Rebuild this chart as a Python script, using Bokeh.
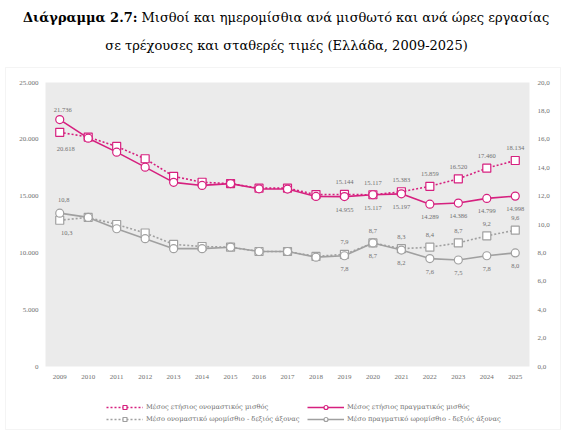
from bokeh.plotting import figure
from bokeh.models import (Range1d, ColumnDataSource, LabelSet, Label, BoxAnnotation,
                          Legend, LegendItem)
from bokeh.embed import file_html
from bokeh.resources import INLINE

# ---- data -------------------------------------------------------------
years = list(range(2009, 2026))

# annual wage per employee (left axis, euro)
annual_nominal = [20618, 20200, 19370, 18290, 16740, 16220, 16100, 15700, 15700,
                  15130, 15144, 15117, 15383, 15859, 16520, 17460, 18134]
annual_real = [21736, 20100, 18870, 17550, 16210, 15940, 16100, 15640, 15620,
               14970, 14955, 15117, 15197, 14289, 14386, 14799, 14998]

# hourly wage (right axis, euro)
hourly_nominal = [10.3, 10.5, 10.0, 9.4, 8.6, 8.45, 8.4, 8.1, 8.1,
                  7.75, 7.9, 8.7, 8.3, 8.4, 8.7, 9.2, 9.6]
hourly_real = [10.8, 10.5, 9.7, 9.0, 8.3, 8.3, 8.4, 8.1, 8.1,
               7.7, 7.8, 8.7, 8.2, 7.6, 7.5, 7.8, 8.0]

labelled_years = [2009, 2019, 2020, 2021, 2022, 2023, 2024, 2025]

left_ticks = [0, 5000, 10000, 15000, 20000, 25000]
right_ticks = [0, 2, 4, 6, 8, 10, 12, 14, 16, 18, 20]

legend_labels = ["Μέσος ετήσιος ονομαστικός μισθός",
                 "Μέσος ετήσιος πραγματικός μισθός",
                 "Μέσο ονομαστικό ωρομίσθιο - δεξιός άξονας",
                 "Μέσο πραγματικό ωρομίσθιο - δεξιός άξονας"]

title_bold = "Διάγραμμα 2.7:"
title_rest = "Μισθοί και ημερομίσθια ανά μισθωτό και ανά ώρες εργασίας"
title_line2 = "σε τρέχουσες και σταθερές τιμές (Ελλάδα, 2009-2025)"


# ---- helpers ----------------------------------------------------------
def fmt_int(v):
    return f"{int(round(v)):,}".replace(",", ".")


def fmt_dec(v):
    return f"{v:.1f}".replace(".", ",")


PINK = "#D6207F"
GREY = "#A0A0A0"
TEXT = "#707070"
FONT = "DejaVu Serif"

W, H = 570, 441
FL, FR, FT, FB = 45, 529, 82, 366   # edges of the grey plotting area, in pixels

X_LO, X_HI = years[0] - 0.5, years[-1] + 0.5
Y_HI, Y2_HI = left_ticks[-1], right_ticks[-1]
kx = (FR - FL) / (X_HI - X_LO)
ky = (FB - FT) / Y_HI
ky2 = (FB - FT) / Y2_HI


def px_x(px):
    """canvas pixel column -> data x"""
    return X_LO + (px - FL) / kx


def px_y(py):
    """canvas pixel row (from top) -> left-axis data y"""
    return (FB - py) / ky


# the frame spans the whole canvas; the grey box marks the plotting area
p = figure(width=W, height=H, output_backend="svg", toolbar_location=None,
           x_axis_location=None, y_axis_location=None,
           x_range=Range1d(px_x(0), px_x(W)), y_range=Range1d(px_y(H), px_y(0)),
           min_border=0, min_border_left=0, min_border_right=0,
           min_border_top=0, min_border_bottom=0)
p.extra_y_ranges = {"hourly": Range1d(-(H - FB) / ky2, Y2_HI + FT / ky2)}
p.background_fill_color = "white"
p.border_fill_color = "white"
p.outline_line_color = None
p.grid.visible = False

p.add_layout(BoxAnnotation(left=X_LO, right=X_HI, bottom=0, top=Y_HI,
                           fill_color="#EBEBEB", fill_alpha=1, line_color=None,
                           level="underlay"))
# outer chart border
p.add_layout(BoxAnnotation(left=px_x(5), right=px_x(560), bottom=px_y(429), top=px_y(67),
                           fill_alpha=0, line_color="#D9D9D9", line_width=1,
                           level="underlay"))

# ---- axis tick labels -------------------------------------------------
TICK_FS = "7px"
tick_style = dict(text_font=FONT, text_font_size=TICK_FS, text_color=TEXT,
                  text_baseline="middle")

xs = ColumnDataSource(dict(x=years, y=[0] * len(years), t=[str(y) for y in years]))
p.add_layout(LabelSet(x="x", y="y", text="t", source=xs, y_offset=-10,
                      text_align="center", **tick_style))

ls = ColumnDataSource(dict(x=[X_LO] * len(left_ticks), y=left_ticks,
                           t=[fmt_int(t) for t in left_ticks]))
p.add_layout(LabelSet(x="x", y="y", text="t", source=ls, x_offset=-7,
                      text_align="right", **tick_style))

rs = ColumnDataSource(dict(x=[X_HI] * len(right_ticks), y=right_ticks,
                           t=[fmt_dec(t) for t in right_ticks]))
p.add_layout(LabelSet(x="x", y="y", text="t", source=rs, x_offset=8,
                      y_range_name="hourly", text_align="left", **tick_style))

# ---- series -----------------------------------------------------------
src = ColumnDataSource(dict(year=years, an=annual_nominal, ar=annual_real,
                            hn=hourly_nominal, hr=hourly_real))

MK = 8
r_hn_line = p.line("year", "hn", source=src, y_range_name="hourly", color=GREY,
                   line_width=1.6, line_dash="2 2")
r_hr_line = p.line("year", "hr", source=src, y_range_name="hourly", color=GREY,
                   line_width=1.6)
r_hn_mk = p.scatter("year", "hn", source=src, y_range_name="hourly", marker="square",
                    size=MK, line_color=GREY, fill_color="white", line_width=1.2)
r_hr_mk = p.scatter("year", "hr", source=src, y_range_name="hourly", marker="circle",
                    size=MK, line_color=GREY, fill_color="white", line_width=1.2)

r_an_line = p.line("year", "an", source=src, color=PINK, line_width=1.6, line_dash="2 2")
r_ar_line = p.line("year", "ar", source=src, color=PINK, line_width=1.6)
r_an_mk = p.scatter("year", "an", source=src, marker="square", size=MK,
                    line_color=PINK, fill_color="white", line_width=1.2)
r_ar_mk = p.scatter("year", "ar", source=src, marker="circle", size=MK,
                    line_color=PINK, fill_color="white", line_width=1.2)


# ---- value labels -----------------------------------------------------
def labels(vals, fmt, first_off, rest_off, first_dx, y_range_name="default"):
    """Value labels for the labelled years (first year offset separately)."""
    vs = [vals[years.index(y)] for y in labelled_years]
    offs = [first_off] + [rest_off] * (len(vs) - 1)
    xo = [first_dx] + [0] * (len(vs) - 1)
    s = ColumnDataSource(dict(x=labelled_years, y=vs, t=[fmt(v) for v in vs],
                              yo=offs, xo=xo))
    p.add_layout(LabelSet(x="x", y="y", text="t", source=s, y_range_name=y_range_name,
                          x_offset="xo", y_offset="yo", text_align="center",
                          text_baseline="middle", text_font=FONT,
                          text_font_size="6.5px", text_color=TEXT))


labels(annual_real, fmt_int, 10, -13, 3)
labels(annual_nominal, fmt_int, -17, 12, 6)
labels(hourly_real, fmt_dec, 13, -13, 4, "hourly")
labels(hourly_nominal, fmt_dec, -13, 12, 7, "hourly")


# ---- legend (two columns) ---------------------------------------------
def make_legend(items, x0):
    lg = Legend(items=items, location=(x0, H - 424))
    lg.background_fill_alpha = 0
    lg.border_line_color = None
    lg.label_text_font = FONT
    lg.label_text_font_size = "6.7px"
    lg.label_text_color = TEXT
    lg.glyph_width = 37
    lg.glyph_height = 10
    lg.label_height = 10
    lg.spacing = 2
    lg.padding = 0
    lg.margin = 0
    lg.label_standoff = 3
    p.add_layout(lg, "center")


make_legend([LegendItem(label=legend_labels[0], renderers=[r_an_line, r_an_mk]),
             LegendItem(label=legend_labels[2], renderers=[r_hn_line, r_hn_mk])], 106)
make_legend([LegendItem(label=legend_labels[1], renderers=[r_ar_line, r_ar_mk]),
             LegendItem(label=legend_labels[3], renderers=[r_hr_line, r_hr_mk])], 307)

# ---- title ------------------------------------------------------------
TS = "13px"
p.add_layout(Label(x=px_x(137), y=px_y(17), text=title_bold, text_font=FONT,
                   text_font_style="bold", text_font_size=TS, text_align="right",
                   text_baseline="middle", text_color="black"))
p.add_layout(Label(x=px_x(141), y=px_y(17), text=title_rest, text_font=FONT,
                   text_font_size=TS, text_align="left",
                   text_baseline="middle", text_color="black"))
p.add_layout(Label(x=px_x(286), y=px_y(45), text=title_line2, text_font=FONT,
                   text_font_size=TS, text_align="center",
                   text_baseline="middle", text_color="black"))

open("out.html", "w").write(file_html(p, INLINE))
